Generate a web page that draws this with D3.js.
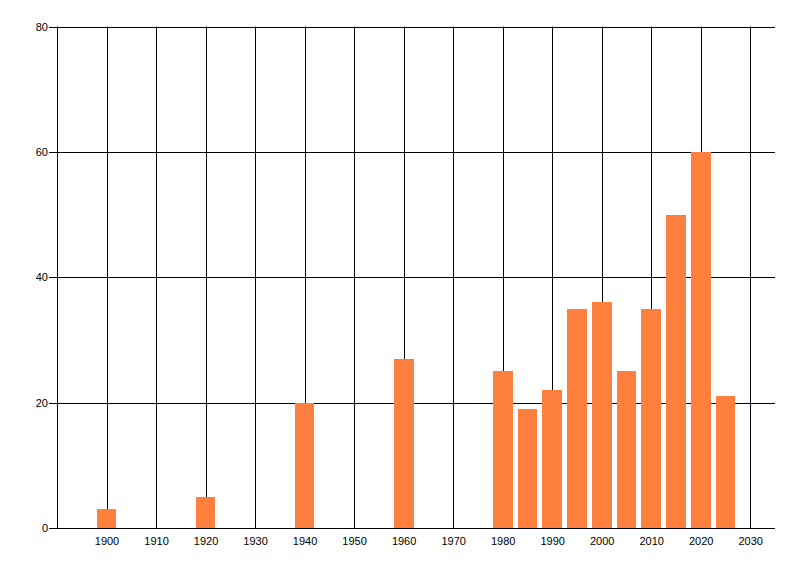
<!DOCTYPE html>
<html>
<head>
<meta charset="utf-8">
<script src="https://cdn.jsdelivr.net/npm/d3@7"></script>
<style>
  body { margin: 0; background: #fff; }
  text { font-family: "Liberation Sans", Arial, sans-serif; font-size: 11px; fill: #000; }
</style>
</head>
<body>
<div id="chart-area"></div>
<script>
let width = 800,
height = 576;

// data
let years = [1900, 1920, 1940, 1960, 1980, 1985, 1990, 1995, 2000, 2005, 2010, 2015, 2020, 2025];
let counts = [3, 5, 20, 27, 25, 19, 22, 35, 36, 25, 35, 50, 60, 21];
let xTicks = [1900, 1910, 1920, 1930, 1940, 1950, 1960, 1970, 1980, 1990, 2000, 2010, 2020, 2030];
let yTicks = [0, 20, 40, 60, 80];

let svg = d3.select("#chart-area").append("svg")
  .attr("width", width)
  .attr("height", height);

let x = d3.scaleLinear().domain([1890, 2035]).range([57, 775]);
let y = d3.scaleLinear().domain([0, 80]).range([528, 26.5]);

let plotLeft = x.range()[0], plotRight = x.range()[1];
let plotBottom = y.range()[0], plotTop = y.range()[1];

// horizontal grid
svg.selectAll(".hgrid")
  .data(yTicks)
  .enter().append("line")
  .attr("x1", plotLeft - 8)
  .attr("x2", plotRight)
  .attr("y1", d => Math.round(y(d)) + 0.5)
  .attr("y2", d => Math.round(y(d)) + 0.5)
  .style("stroke", "#000")
  .style("stroke-width", 1);

// vertical grid
svg.selectAll(".vgrid")
  .data(xTicks)
  .enter().append("line")
  .attr("x1", d => Math.round(x(d)) + 0.5)
  .attr("x2", d => Math.round(x(d)) + 0.5)
  .attr("y1", plotTop)
  .attr("y2", plotBottom)
  .style("stroke", "#000")
  .style("stroke-width", 1);

// left axis line
svg.append("line")
  .attr("x1", plotLeft + 0.5).attr("x2", plotLeft + 0.5)
  .attr("y1", plotTop).attr("y2", plotBottom + 0.5)
  .style("stroke", "#000");

// bars
let barW = x(1894) - x(1890);
svg.selectAll(".bar")
  .data(years)
  .enter().append("rect")
  .attr("class", "bar")
  .attr("x", d => x(d) - barW / 2)
  .attr("width", barW)
  .attr("y", (d, i) => y(counts[i]))
  .attr("height", (d, i) => plotBottom - y(counts[i]))
  .attr("shape-rendering", "crispEdges")
  .style("fill", "#FF7F3F");

// bottom axis line over bars
svg.append("line")
  .attr("x1", plotLeft).attr("x2", plotRight)
  .attr("y1", Math.round(plotBottom) + 0.5).attr("y2", Math.round(plotBottom) + 0.5)
  .style("stroke", "#000");

// tick labels
svg.selectAll(".xlab")
  .data(xTicks)
  .enter().append("text")
  .attr("x", d => x(d) + 0.5)
  .attr("y", 545)
  .attr("text-anchor", "middle")
  .text(d => d);

svg.selectAll(".ylab")
  .data(yTicks)
  .enter().append("text")
  .attr("x", 48)
  .attr("y", d => y(d) + 4)
  .attr("text-anchor", "end")
  .text(d => d);
</script>
</body>
</html>
